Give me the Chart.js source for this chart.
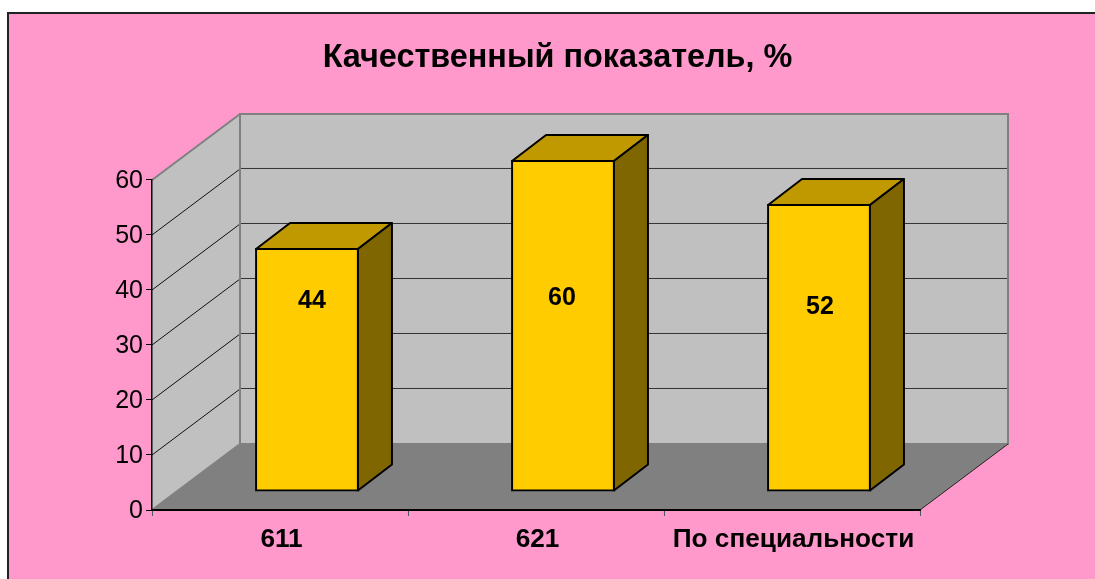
<!DOCTYPE html>
<html lang="ru">
<head>
<meta charset="utf-8">
<title>Качественный показатель, %</title>
<script src="https://cdn.jsdelivr.net/npm/chart.js@4"></script>
<style>
  html, body { margin: 0; padding: 0; background: #fff; }
  canvas { display: block; }
</style>
</head>
<body>
<canvas id="chart" width="1095" height="579"></canvas>
<script>
// Chart data
const categories = ["611", "621", "По специальности"];
const values = [44, 60, 52];
const chartTitle = "Качественный показатель, %";

// 3D look
const FONT = "'Liberation Sans', Arial, sans-serif";
const wallDepth = { x: 88, y: -66 };    // floor depth from front edge to back wall
const barShift = { x: 27, y: -19 };     // bar front sits this far inside the floor
const barDepth = { x: 34, y: -26 };
const labelNudge = [[5, -69], [-1, -28], [1, -41]];  // data labels are not centred on the bars

function poly(ctx, pts, fill, stroke, lw) {
  ctx.beginPath();
  pts.forEach((p, i) => i ? ctx.lineTo(p[0], p[1]) : ctx.moveTo(p[0], p[1]));
  ctx.closePath();
  if (fill) { ctx.fillStyle = fill; ctx.fill(); }
  if (stroke) { ctx.strokeStyle = stroke; ctx.lineWidth = lw; ctx.stroke(); }
}

function line(ctx, x1, y1, x2, y2, color, lw) {
  ctx.beginPath();
  ctx.moveTo(x1, y1);
  ctx.lineTo(x2, y2);
  ctx.strokeStyle = color;
  ctx.lineWidth = lw;
  ctx.stroke();
}

const scene3d = {
  id: "scene3d",
  // title is centred on the whole panel, not on the plot
  afterLayout(chart) {
    chart.titleBlock.left = 0;
    chart.titleBlock.right = 1115;
  },
  beforeDraw(chart) {
    const ctx = chart.ctx;
    const { x: xs, y: ys } = chart.scales;
    const l = xs.left, r = xs.right;
    const y0 = ys.getPixelForValue(0), yTop = ys.getPixelForValue(ys.max);
    const dx = wallDepth.x, dy = wallDepth.y;
    ctx.save();
    // panel
    ctx.fillStyle = "#fff";
    ctx.fillRect(0, 0, chart.width, chart.height);
    ctx.fillStyle = "#FF99CC";
    ctx.fillRect(8, 13, chart.width, chart.height);
    ctx.strokeStyle = "#222";
    ctx.lineWidth = 2;
    ctx.strokeRect(8, 13, chart.width, chart.height);
    // floor
    poly(ctx, [[l, y0], [r, y0], [r + dx, y0 + dy], [l + dx, y0 + dy]], "#808080");
    // side wall
    poly(ctx, [[l, y0], [l, yTop], [l + dx, yTop + dy], [l + dx, y0 + dy]], "#C0C0C0");
    // back wall
    poly(ctx, [[l + dx, yTop + dy], [r + dx, yTop + dy], [r + dx, y0 + dy], [l + dx, y0 + dy]], "#C0C0C0");
    // grid lines
    ys.ticks.forEach(t => {
      if (t.value === 0 || t.value === ys.max) return;
      const y = ys.getPixelForValue(t.value);
      line(ctx, l, y, l + dx, y + dy, "#111", 1);
      const by = y + dy - 0.5;
      line(ctx, l + dx, by, r + dx, by, "#333", 1);
    });
    // grey outlines
    line(ctx, l, yTop, l + dx, yTop + dy, "#808080", 2);
    line(ctx, l, y0, l + dx, y0 + dy, "#808080", 2);
    poly(ctx, [[l + dx, yTop + dy], [r + dx, yTop + dy], [r + dx, y0 + dy], [l + dx, y0 + dy]], null, "#808080", 2);
    line(ctx, r, y0, r + dx, y0 + dy, "#222", 1);
    ctx.restore();
  },
  beforeDatasetDraw(chart) {
    chart.ctx.save();
    chart.ctx.translate(barShift.x, barShift.y);
  },
  afterDatasetDraw(chart) {
    chart.ctx.restore();
  },
  afterDatasetsDraw(chart) {
    const ctx = chart.ctx;
    ctx.save();
    ctx.lineJoin = "round";
    chart.getDatasetMeta(0).data.forEach((bar, i) => {
      const p = bar.getProps(["x", "y", "base", "width"], true);
      const x1 = p.x - p.width / 2 + barShift.x;
      const x2 = p.x + p.width / 2 + barShift.x;
      const top = p.y + barShift.y;
      const bot = p.base + barShift.y;
      const dx = barDepth.x, dy = barDepth.y;
      poly(ctx, [[x1, top], [x2, top], [x2 + dx, top + dy], [x1 + dx, top + dy]], "#C09900", "#000", 2);
      poly(ctx, [[x2, top], [x2 + dx, top + dy], [x2 + dx, bot + dy], [x2, bot]], "#806600", "#000", 2);
      ctx.font = "bold 25px " + FONT;
      ctx.fillStyle = "#000";
      ctx.textAlign = "center";
      ctx.textBaseline = "middle";
      ctx.fillText(String(values[i]),
        p.x + barShift.x + labelNudge[i][0],
        (top + bot) / 2 + labelNudge[i][1]);
    });
    ctx.restore();
  }
};

new Chart(document.getElementById("chart"), {
  type: "bar",
  data: {
    labels: categories,
    datasets: [{
      data: values,
      backgroundColor: "#FFCC00",
      borderColor: "#000",
      borderWidth: 2,
      borderSkipped: false,
      inflateAmount: 1,
      barPercentage: 0.398,
      categoryPercentage: 1,
      clip: false
    }]
  },
  plugins: [scene3d],
  options: {
    responsive: false,
    animation: false,
    layout: { padding: { left: 0, right: 175, top: 0, bottom: 0 } },
    plugins: {
      legend: { display: false },
      tooltip: { enabled: false },
      title: {
        display: true,
        text: chartTitle,
        color: "#000",
        font: { family: FONT, size: 32.4, weight: "bold", lineHeight: 1.2 },
        padding: { top: 39, bottom: 102.1 }
      }
    },
    scales: {
      x: {
        grid: { drawOnChartArea: false, tickLength: 6, color: "#555", tickColor: "#555", offset: true },
        border: { color: "#000", width: 2 },
        ticks: {
          color: "#000",
          font: { family: FONT, size: 26.2, weight: "bold" },
          padding: 8,
          labelOffset: 1.5,
          maxRotation: 0,
          autoSkip: false
        },
        afterFit(s) { s.height = 69; }
      },
      y: {
        min: 0,
        max: 60,
        grid: { drawOnChartArea: false, tickLength: 6, color: "#000", tickColor: "#000" },
        border: { color: "#000", width: 1.5 },
        ticks: {
          stepSize: 10,
          color: "#000",
          font: { family: FONT, size: 25 },
          padding: 3,
          labelOffset: 1
        },
        afterFit(s) { s.width = 152; }
      }
    }
  }
});
</script>
</body>
</html>
